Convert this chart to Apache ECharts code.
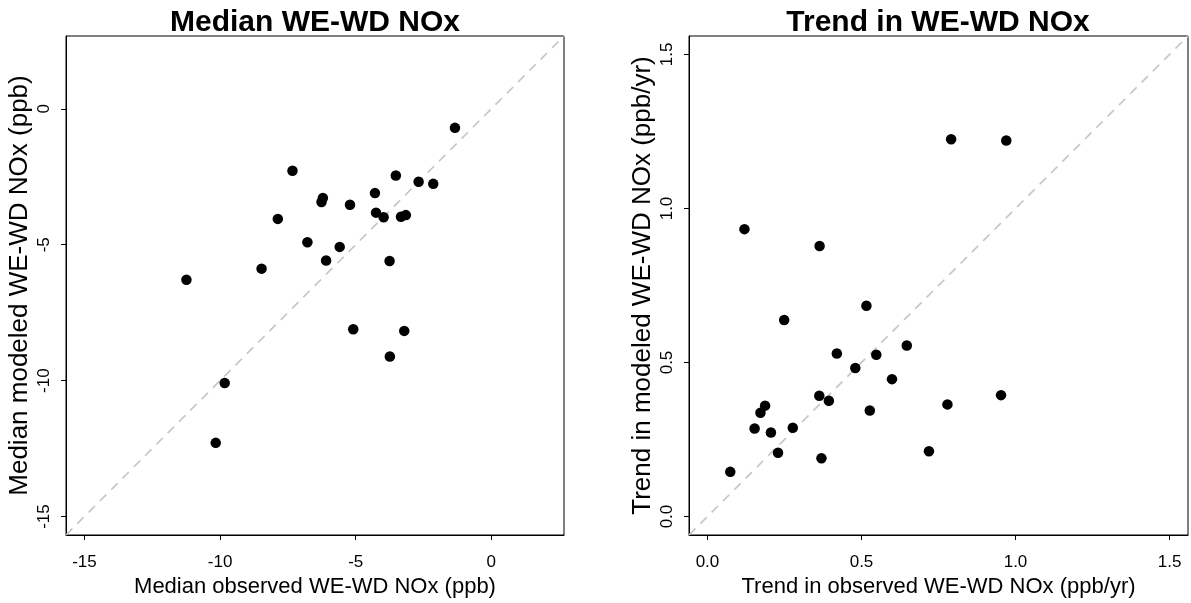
<!DOCTYPE html>
<html>
<head>
<meta charset="utf-8">
<script src="https://cdn.jsdelivr.net/npm/echarts@6/dist/echarts.min.js"></script>
<style>
html,body{margin:0;padding:0;background:#fff;}
#c{width:1191px;height:603px;}
</style>
</head>
<body>
<div id="c"></div>
<script>
// ---- data ----
var medianObs = [-1.34, -7.33, -3.52, -2.68, -2.14, -4.29, -6.21, -6.26, -5.21, -4.25, -3.97, -3.33, -3.15, -7.87, -6.78, -5.59, -6.09, -3.75, -8.47, -11.24, -5.09, -3.21, -3.74, -9.83, -10.16];
var medianMod = [-0.70, -2.28, -2.45, -2.68, -2.76, -3.10, -3.28, -3.43, -3.53, -3.82, -3.99, -3.97, -3.91, -4.05, -4.91, -5.08, -5.58, -5.60, -5.88, -6.29, -8.11, -8.17, -9.11, -10.09, -12.29];
var trendObs = [0.791, 0.970, 0.120, 0.364, 0.516, 0.249, 0.647, 0.420, 0.548, 0.480, 0.599, 0.953, 0.363, 0.394, 0.779, 0.187, 0.172, 0.527, 0.153, 0.277, 0.206, 0.229, 0.719, 0.370, 0.074];
var trendMod = [1.225, 1.221, 0.933, 0.878, 0.684, 0.638, 0.555, 0.529, 0.525, 0.482, 0.446, 0.394, 0.392, 0.376, 0.364, 0.360, 0.337, 0.344, 0.286, 0.288, 0.273, 0.207, 0.212, 0.189, 0.145];
var medianTicks = [-15, -10, -5, 0];
var trendTicks = [0, 0.5, 1.0, 1.5];
var medianLim = [-15.68, 2.68];
var trendLim = [-0.06, 1.56];
var titles = ['Median WE-WD NOx', 'Trend in WE-WD NOx'];
var xNames = ['Median observed WE-WD NOx (ppb)', 'Trend in observed WE-WD NOx (ppb/yr)'];
var yNames = ['Median modeled WE-WD NOx (ppb)', 'Trend in modeled WE-WD NOx (ppb/yr)'];

function pairs(a, b) { return a.map(function (v, i) { return [v, b[i]]; }); }

var FONT = 'Liberation Sans';

function makeAxis(idx, lim, ticks, name, isY, fmt) {
  return {
    type: 'value',
    gridIndex: idx,
    min: lim[0],
    max: lim[1],
    name: name,
    nameLocation: 'middle',
    nameGap: isY ? 33 : 35,
    nameTextStyle: { fontFamily: FONT, fontSize: isY ? 26 : 22, color: '#000' },
    axisLine: { show: true, onZero: false, lineStyle: { color: '#000', width: 1 } },
    axisTick: { show: true, inside: false, length: 5, customValues: ticks, lineStyle: { color: '#000', width: 1 } },
    axisLabel: {
      show: true, customValues: ticks, rotate: isY ? 90 : 0,
      margin: isY ? 13 : 19,
      fontFamily: FONT, fontSize: 17, color: '#000',
      formatter: fmt
    },
    splitLine: { show: false }
  };
}

var fmtInt = function (v) { return String(v); };
var fmt1 = function (v) { return v.toFixed(1); };

var chart = echarts.init(document.getElementById('c'), null, { renderer: 'canvas' });
chart.setOption({
  backgroundColor: '#fff',
  animation: false,
  title: [
    { text: titles[0], left: 315, top: 8, padding: 0, textAlign: 'center',
      textStyle: { fontFamily: FONT, fontSize: 30, fontWeight: 'bold', color: '#000' } },
    { text: titles[1], left: 938, top: 8, padding: 0, textAlign: 'center',
      textStyle: { fontFamily: FONT, fontSize: 30, fontWeight: 'bold', color: '#000' } }
  ],
  grid: [
    { left: 66, top: 36, width: 498, height: 499, show: true, borderColor: '#000', borderWidth: 1, backgroundColor: 'transparent', outerBoundsMode: 'none' },
    { left: 689, top: 36, width: 499, height: 499, show: true, borderColor: '#000', borderWidth: 1, backgroundColor: 'transparent', outerBoundsMode: 'none' }
  ],
  xAxis: [
    makeAxis(0, medianLim, medianTicks, xNames[0], false, fmtInt),
    makeAxis(1, trendLim, trendTicks, xNames[1], false, fmt1)
  ],
  yAxis: [
    makeAxis(0, medianLim, medianTicks, yNames[0], true, fmtInt),
    makeAxis(1, trendLim, trendTicks, yNames[1], true, fmt1)
  ],
  series: [
    { type: 'line', xAxisIndex: 0, yAxisIndex: 0, data: medianLim.map(function (v) { return [v, v]; }),
      symbol: 'none', silent: true, clip: true, z: 1,
      lineStyle: { color: '#c4c4c4', width: 1.6, type: [9, 7] } },
    { type: 'line', xAxisIndex: 1, yAxisIndex: 1, data: trendLim.map(function (v) { return [v, v]; }),
      symbol: 'none', silent: true, clip: true, z: 1,
      lineStyle: { color: '#c4c4c4', width: 1.6, type: [9, 7] } },
    { type: 'scatter', xAxisIndex: 0, yAxisIndex: 0, data: pairs(medianObs, medianMod),
      symbol: 'circle', symbolSize: 10.5, itemStyle: { color: '#000', opacity: 1 }, z: 3 },
    { type: 'scatter', xAxisIndex: 1, yAxisIndex: 1, data: pairs(trendObs, trendMod),
      symbol: 'circle', symbolSize: 10.5, itemStyle: { color: '#000', opacity: 1 }, z: 3 }
  ]
});
</script>
</body>
</html>
